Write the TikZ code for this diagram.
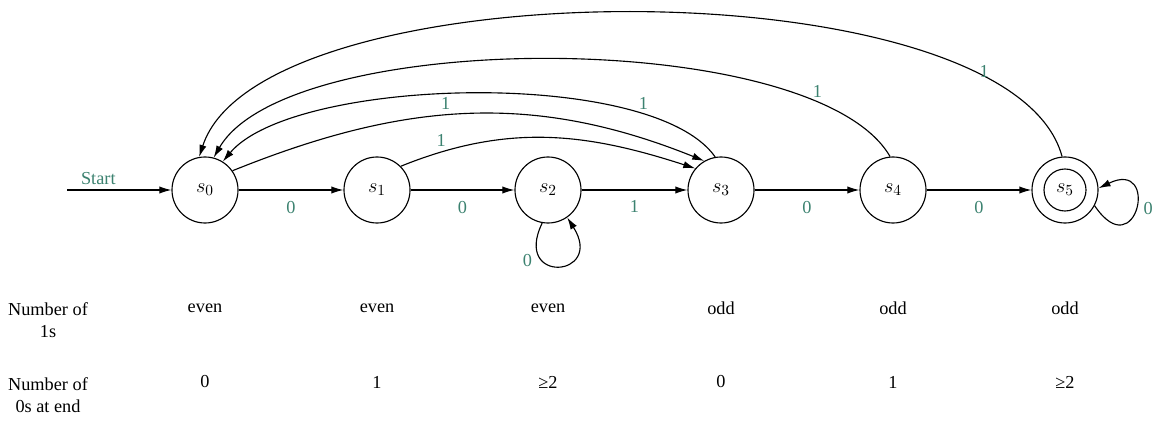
\documentclass[tikz,border=0pt]{standalone}
\usepackage{fontspec}
\setmainfont{Liberation Serif}
\usetikzlibrary{arrows.meta,positioning}
\definecolor{labelgreen}{RGB}{60,130,112}

\tikzset{
  state/.style={draw, circle, minimum size=1.65cm, inner sep=0pt, font=\fontsize{15}{18}\selectfont},
  lbl/.style={text=labelgreen},
}

\begin{document}
\begin{tikzpicture}[x=0.025cm, y=0.025cm, line width=0.8pt,
    >={Latex[length=3mm,width=1.8mm]},
    every node/.style={font=\fontsize{13}{16}\selectfont}]
    \useasboundingbox (0,0) rectangle (1157,422);

    % states
    \node[state] (s0) at (205,232) {$s_0$};
    \node[state] (s1) at (377,232) {$s_1$};
    \node[state] (s2) at (548,232) {$s_2$};
    \node[state] (s3) at (721,232) {$s_3$};
    \node[state] (s4) at (893,232) {$s_4$};
    \node[state] (s5) at (1065,232) {$s_5$};
    \draw (s5) circle (0.525cm);

    % start and straight transitions
    \coordinate (start) at (67,232);
    \draw[->] (start) -- node[lbl, above, pos=0.3] {Start} (s0);
    \draw[->] (s0) -- node[lbl, below=4pt] {0} (s1);
    \draw[->] (s1) -- node[lbl, below=4pt] {0} (s2);
    \draw[->] (s2) -- node[lbl, below=4pt] {1} (s3);
    \draw[->] (s3) -- node[lbl, below=4pt] {0} (s4);
    \draw[->] (s4) -- node[lbl, below=4pt] {0} (s5);

    % loops
    \draw[->] (s2.-100) .. controls +(-30,-62) and +(38,-60) .. node[lbl, pos=0.3, left=3pt] {0} (s2.-55);
    \draw[->] (s5.-28) .. controls +(42,-62) and +(62,30) .. node[lbl, pos=0.5, right=2pt] {0} (s5.3);

    % arcs
    \draw[->] (s1.45) to[out=22, in=162] node[lbl, pos=0.13, above] {1} (s3.140);
    \draw[->] (s0.35) to[out=22, in=158] node[lbl, pos=0.45, above] {1} (s3.120);
    \draw[->] (s3.100) to[out=125, in=50, out distance=2.75cm, in distance=2.75cm]
        node[lbl, pos=0.22, above right, inner sep=1pt] {1} (s0.58);
    \draw[->] (s4.95) to[out=120, in=60, out distance=3.75cm, in distance=3.75cm]
        node[lbl, pos=0.18, above right, inner sep=1pt] {1} (s0.75);
    \draw[->] (s5.95) to[out=105, in=72, out distance=5cm, in distance=5cm]
        node[lbl, pos=0.18, right] {1} (s0.100);

    % table
    \node[align=center] (h1) at (48,102) {Number of\\1s};
    \node[align=center] (h0) at (48,27) {Number of\\0s at end};
    \foreach \s/\a/\b in {s0/even/0, s1/even/1, s2/even/≥2, s3/odd/0, s4/odd/1, s5/odd/≥2} {
        \node (n1\s) at (\s |- 0,114) {\a};
        \node (n0\s) at (\s |- 0,40) {\b};
    }
\end{tikzpicture}
\end{document}
